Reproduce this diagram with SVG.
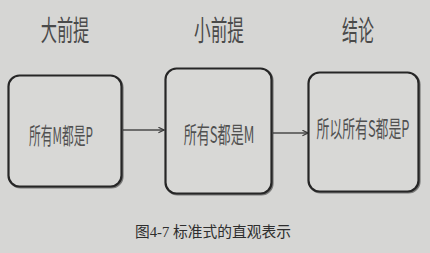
<svg xmlns="http://www.w3.org/2000/svg" width="430" height="253" viewBox="0 0 430 253">
  <style>
    .title { font-family: "Noto Sans CJK SC", "Noto Sans", sans-serif; font-size: 28px; fill: #4a4a4a; text-anchor: middle; }
    .label { font-family: "Noto Sans CJK SC", "Noto Sans", sans-serif; font-size: 23px; fill: #505050; text-anchor: middle; }
    .box { fill: #d8d8d6; stroke: #262626; stroke-width: 2.2; }
    .shade { fill: none; stroke: #3a3a3a; stroke-width: 2.2; opacity: 0.6; }
    .edge { stroke: #4a4a4a; stroke-width: 1.6; fill: none; }
    .caption { font-family: "Liberation Serif", "Noto Sans CJK SC", serif; font-size: 15px; fill: #2e2e2e; }
  </style>
  <defs>
    <marker id="chev" viewBox="0 0 10 10" refX="9" refY="5" markerWidth="7" markerHeight="7" orient="auto" markerUnits="userSpaceOnUse">
      <path d="M1,1 L9,5 L1,9" fill="none" stroke="#3a3a3a" stroke-width="1.6"/>
    </marker>
  </defs>

  <rect width="430" height="253" fill="#d6d6d4"/>

  <!-- column headings, horizontally condensed -->
  <text class="title" transform="translate(65,41) scale(0.58,1)" textLength="84" lengthAdjust="spacingAndGlyphs">大前提</text>
  <text class="title" transform="translate(219,41) scale(0.58,1)" textLength="86" lengthAdjust="spacingAndGlyphs">小前提</text>
  <text class="title" transform="translate(358,41) scale(0.58,1)" textLength="55" lengthAdjust="spacingAndGlyphs">结论</text>

  <!-- connectors -->
  <g id="connectors">
    <line class="edge" x1="123" y1="130" x2="164" y2="130" marker-end="url(#chev)"/>
    <line class="edge" x1="273" y1="133" x2="308" y2="133" marker-end="url(#chev)"/>
  </g>

  <g id="major">
    <rect class="shade" x="9.5" y="76.5" width="113" height="111" rx="11"/>
    <rect class="box" x="8.5" y="75.5" width="113" height="111" rx="11"/>
    <text class="label" transform="translate(61,144) scale(0.57,1)" textLength="112" lengthAdjust="spacingAndGlyphs">所有M都是P</text>
  </g>

  <g id="minor">
    <rect class="shade" x="166.5" y="69.5" width="106" height="125" rx="11"/>
    <rect class="box" x="165.5" y="68.5" width="106" height="125" rx="11"/>
    <text class="label" transform="translate(219,143) scale(0.57,1)" textLength="124" lengthAdjust="spacingAndGlyphs">所有S都是M</text>
  </g>

  <g id="conclusion">
    <rect class="shade" x="309.5" y="73.5" width="110" height="119" rx="11"/>
    <rect class="box" x="308.5" y="72.5" width="110" height="119" rx="11"/>
    <text class="label" transform="translate(363,137) scale(0.57,1)" textLength="163" lengthAdjust="spacingAndGlyphs">所以所有S都是P</text>
  </g>

  <text class="caption" x="135" y="237" textLength="156" lengthAdjust="spacingAndGlyphs">图4-7 标准式的直观表示</text>
</svg>
